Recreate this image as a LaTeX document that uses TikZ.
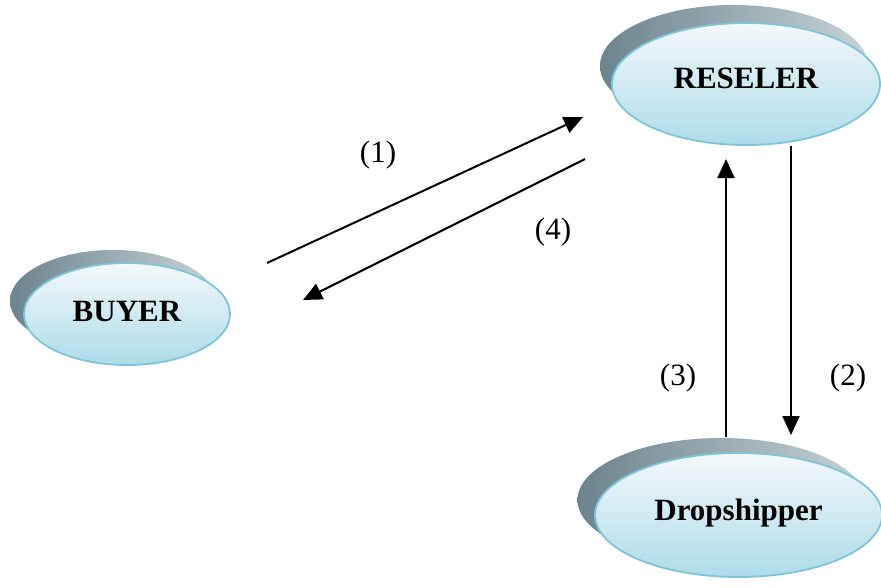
\documentclass[tikz,border=0pt]{standalone}
\usepackage{fontspec}
\setmainfont{Liberation Serif}
\usepackage{tikz}
\usetikzlibrary{shapes.geometric, arrows.meta, calc}
\definecolor{myrim}{RGB}{125,198,218}
\definecolor{mytop}{RGB}{244,248,251}
\definecolor{mybottom}{RGB}{172,220,233}
\definecolor{myshadowdark}{RGB}{108,132,142}
\definecolor{myshadowmid}{RGB}{140,160,168}
\definecolor{myshadowlight}{RGB}{200,210,214}
\definecolor{mydark}{RGB}{0,0,0}
\tikzset{
  entity/.style={ellipse, draw=myrim, line width=1.8pt,
    top color=mytop, bottom color=mybottom, inner sep=0pt,
    font=\fontsize{31}{36}\selectfont\bfseries},
  backdrop/.style={ellipse, inner sep=0pt,
    left color=myshadowdark, middle color=myshadowmid, right color=myshadowlight},
  arrow/.style={-{Triangle[length=19pt,width=17pt]}, line width=2pt, color=mydark},
  steplabel/.style={font=\fontsize{31}{36}\selectfont}
}

\begin{document}
\begin{tikzpicture}[x=1pt, y=-1pt]
  \useasboundingbox (0,0) rectangle (881,587);

  % shadows behind the ellipses
  \node[backdrop, minimum width=206pt, minimum height=102pt] (buyershadow) at (113,301) {};
  \node[backdrop, minimum width=268pt, minimum height=122pt] (resellershadow) at (734,66) {};
  \node[backdrop, minimum width=287pt, minimum height=124pt] (dropshadow) at (721,500) {};

  % parties
  \node[entity, minimum width=206pt, minimum height=102pt] (buyer) at (127,314) {\raisebox{6pt}{BUYER}};
  \node[entity, minimum width=268pt, minimum height=122pt] (reseller) at (746,84) {\raisebox{12pt}{RESELER}};
  \node[entity, minimum width=287pt, minimum height=124pt] (drop) at (738.5,515) {\raisebox{10pt}{Dropshipper}};

  % arrow ends
  \coordinate (b1) at ($(buyer)+(140,-51)$);
  \coordinate (r1) at ($(reseller)+(-163,33)$);
  \coordinate (r4) at ($(reseller)+(-161,75)$);
  \coordinate (b4) at ($(buyer)+(176,-14)$);
  \coordinate (r2) at ($(reseller)+(45,62)$);
  \coordinate (d2) at ($(drop)+(52.5,-80)$);
  \coordinate (d3) at ($(drop)+(-12.5,-78)$);
  \coordinate (r3) at ($(reseller)+(-20,75)$);

  \draw[arrow] (b1) -- (r1);
  \draw[arrow] (r4) -- (b4);
  \draw[arrow] (r2) -- (d2);
  \draw[arrow] (d3) -- (r3);

  % step numbers
  \node[steplabel] (step1) at (378,155) {(1)};
  \node[steplabel] (step4) at (553,232) {(4)};
  \node[steplabel] (step3) at (678,378) {(3)};
  \node[steplabel] (step2) at (848,378) {(2)};
\end{tikzpicture}
\end{document}
